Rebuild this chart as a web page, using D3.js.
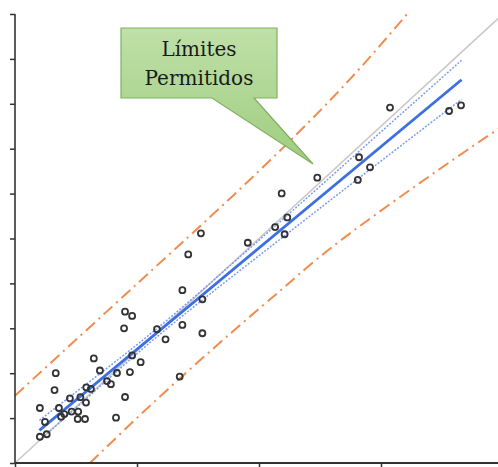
<!DOCTYPE html>
<html>
<head>
<meta charset="utf-8">
<script src="https://cdn.jsdelivr.net/npm/d3@7"></script>
<style>
  html, body { margin: 0; padding: 0; background: #fff; }
  svg { display: block; }
</style>
</head>
<body>
<svg id="chart" width="498" height="467"></svg>
<script>
// Observed (x) vs predicted (y) values
const obsX = [1.02, 1.30, 1.23, 1.02, 1.80, 1.62, 1.67, 1.89, 2.02, 2.25, 2.32, 2.59, 2.57, 2.87,
  2.68, 2.91, 2.92, 3.11, 3.23, 3.48, 3.77, 3.93, 4.14, 4.18, 4.51, 4.71, 4.80, 5.15, 4.47, 4.51,
  4.80, 5.82, 6.17, 6.75, 6.86, 6.86, 7.10, 7.68, 7.68, 7.62, 9.54, 10.66, 11.16, 11.05, 10.93,
  12.39, 14.10, 14.55, 14.05, 15.37, 17.79, 18.28];
const obsY = [1.17, 1.28, 1.83, 2.45, 2.45, 3.25, 4.00, 2.06, 2.18, 2.88, 2.29, 2.29, 1.96, 1.96,
  2.93, 2.69, 3.37, 3.30, 4.66, 4.12, 3.65, 3.51, 2.02, 4.01, 2.94, 4.05, 4.79, 4.49, 6.00, 6.74,
  6.55, 5.96, 5.51, 3.85, 6.15, 7.70, 9.29, 7.29, 5.78, 10.23, 9.81, 10.51, 10.94, 10.19, 12.01,
  12.71, 13.62, 13.17, 12.61, 15.83, 15.68, 15.93];

// Regression line end points
const fitX = [1.0, 18.3];
const fitY = [1.45, 17.07];

// Confidence band of the regression
const ciX     = [1.0, 3, 5, 7, 9, 11, 13, 15, 17, 18.3];
const ciUpper = [1.90, 3.58, 5.27, 7.07, 8.97, 10.88, 12.81, 14.75, 16.68, 17.94];
const ciLower = [1.00, 2.94, 4.87, 6.67, 8.39, 10.08, 11.77, 13.45, 15.12, 16.20];

// Permitted limits (upper and lower)
const limUpX = [0.0, 5.12, 8.68, 11.27, 13.73, 16.07];
const limUpY = [3.0, 8.10, 11.65, 14.35, 17.10, 20.0];
const limLoX = [3.07, 6.28, 9.55, 11.27, 13.39, 17.28, 19.9];
const limLoY = [0.0, 3.30, 6.45, 8.05, 9.95, 13.00, 14.95];

// Axis ticks
const xTicks = [0, 5, 10, 15, 20];
const yTicks = [0, 2, 4, 6, 8, 10, 12, 14, 16, 18, 20];

const calloutLines = ["Límites", "Permitidos"];

const svg = d3.select("#chart");
const x = d3.scaleLinear().domain([0, 20]).range([15, 503]);
const y = d3.scaleLinear().domain([0, 20]).range([463, 14]);

const plot = svg.append("g");

// identity line
plot.append("line")
  .attr("x1", x(0)).attr("y1", y(0))
  .attr("x2", x(20)).attr("y2", y(20))
  .attr("stroke", "#c9c9c9").attr("stroke-width", 1.6);

const smoothLine = d3.line().x(d => x(d[0])).y(d => y(d[1])).curve(d3.curveNatural);

// permitted limits
[[limUpX, limUpY], [limLoX, limLoY]].forEach(([xs, ys]) => {
  plot.append("path")
    .attr("d", smoothLine(xs.map((v, i) => [v, ys[i]])))
    .attr("fill", "none")
    .attr("stroke", "#f28c4e")
    .attr("stroke-width", 2)
    .attr("stroke-dasharray", "12,5,2,5");
});

// confidence band
[ciUpper, ciLower].forEach(ys => {
  plot.append("path")
    .attr("d", smoothLine(ciX.map((v, i) => [v, ys[i]])))
    .attr("fill", "none")
    .attr("stroke", "#7c9cf0")
    .attr("stroke-width", 1.5)
    .attr("stroke-dasharray", "2,1.5");
});

// regression line
plot.append("path")
  .attr("d", d3.line()(fitX.map((v, i) => [x(v), y(fitY[i])])))
  .attr("fill", "none")
  .attr("stroke", "#3b6fe3")
  .attr("stroke-width", 2.8);

// observations
plot.selectAll("circle.obs")
  .data(obsX.map((v, i) => [v, obsY[i]]))
  .join("circle")
  .attr("class", "obs")
  .attr("cx", d => x(d[0]))
  .attr("cy", d => y(d[1]))
  .attr("r", 3)
  .attr("fill", "none")
  .attr("stroke", "#333")
  .attr("stroke-width", 1.8);

// axes
const yAxis = svg.append("g")
  .attr("transform", `translate(${x(0)},0)`)
  .call(d3.axisLeft(y).tickValues(yTicks).tickSize(5).tickFormat(""));
yAxis.select(".domain").attr("stroke", "#333").attr("stroke-width", 1.6).attr("d", `M0,${y(20)}V${y(0)}`);
yAxis.selectAll(".tick line").attr("stroke", "#333").attr("stroke-width", 1.5);

const xAxis = svg.append("g")
  .attr("transform", `translate(0,${y(0)})`)
  .call(d3.axisBottom(x).tickValues(xTicks).tickSize(4).tickFormat(""));
xAxis.select(".domain").attr("stroke", "#333").attr("stroke-width", 2).attr("d", `M${x(0)},0H${x(20)}`);
xAxis.selectAll(".tick line").attr("stroke", "#333").attr("stroke-width", 1.5);

// callout box
const defs = svg.append("defs");
const grad = defs.append("linearGradient").attr("id", "calloutFill")
  .attr("x1", "0").attr("y1", "0").attr("x2", "0").attr("y2", "1");
grad.append("stop").attr("offset", "0%").attr("stop-color", "#bfe0a8");
grad.append("stop").attr("offset", "100%").attr("stop-color", "#9fcd80");

const callout = svg.append("g");
callout.append("path")
  .attr("d", "M121,28 H277 V98 H254 L313,164 L212,98 H121 Z")
  .attr("fill", "url(#calloutFill)")
  .attr("stroke", "#82b062")
  .attr("stroke-width", 1.2)
  .attr("stroke-linejoin", "miter");

callout.selectAll("text")
  .data(calloutLines)
  .join("text")
  .attr("x", 199)
  .attr("y", (d, i) => 56 + i * 29)
  .attr("text-anchor", "middle")
  .attr("font-family", "'DejaVu Serif', serif")
  .attr("font-size", 20)
  .attr("fill", "#1a1a1a")
  .text(d => d);
</script>
</body>
</html>
